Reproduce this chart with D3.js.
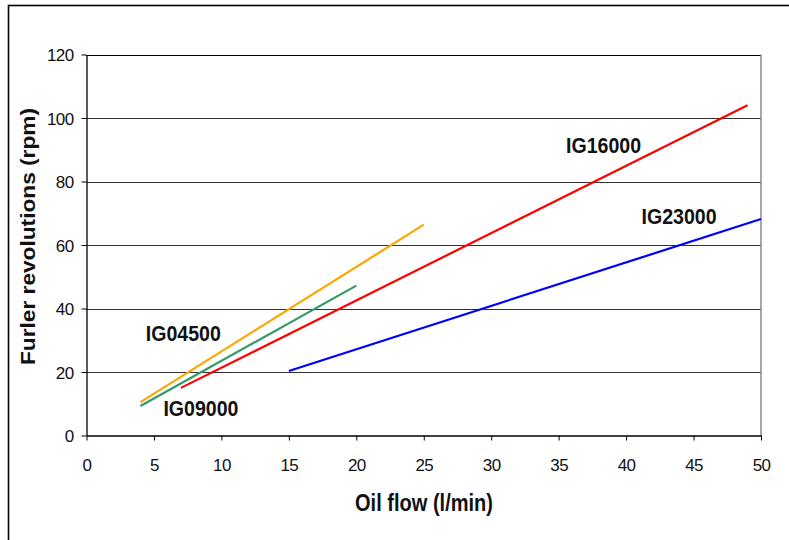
<!DOCTYPE html>
<html>
<head>
<meta charset="utf-8">
<script src="https://cdn.jsdelivr.net/npm/d3@7"></script>
<style>
  body { margin: 0; background: #fff; }
  svg { display: block; font-family: "Liberation Sans", Arial, sans-serif; }
</style>
</head>
<body>
<div id="chart"></div>
<script>
// furler models and their straight lines (oil flow l/min -> rpm)
const models = ["IG04500", "IG09000", "IG16000", "IG23000"];
const flowStart = [4, 4, 7, 15];
const flowEnd = [25, 20, 49, 50];
const rpmStart = [10.5, 9.3, 15, 20.3];
const rpmEnd = [66.4, 47.2, 104, 68.2];
const lineColors = ["#ffa500", "#339966", "#ff0000", "#0000ff"];

// label anchors, in data units
const labelFlow = [4.4, 5.7, 35.55, 41.15];
const labelRpm = [29.8, 6.0, 89.1, 66.6];

const xTicks = [0, 5, 10, 15, 20, 25, 30, 35, 40, 45, 50];
const yTicks = [0, 20, 40, 60, 80, 100, 120];

const width = 789, height = 540;

const svg = d3.select("#chart")
    .append("svg")
    .attr("width", width)
    .attr("height", height);

// outer frame (runs off the right and bottom)
svg.append("rect")
    .attr("x", 8.5)
    .attr("y", 5.5)
    .attr("width", 800)
    .attr("height", 600)
    .attr("fill", "none")
    .attr("stroke", "#000")
    .attr("stroke-width", 1.6);

const x = d3.scaleLinear().domain([0, 50]).range([86.5, 761]);
const y = d3.scaleLinear().domain([0, 120]).range([435.5, 54.5]);

// gridlines
svg.append("g")
    .selectAll("line")
    .data(yTicks.filter(d => d > 0))
    .join("line")
    .attr("x1", x(0))
    .attr("x2", x(50))
    .attr("y1", d => Math.round(y(d)) + 0.5)
    .attr("y2", d => Math.round(y(d)) + 0.5)
    .attr("stroke", d => d === 120 ? "#000" : "#333")
    .attr("stroke-width", 1);

// right edge of plot area
svg.append("line")
    .attr("x1", x(50))
    .attr("x2", x(50))
    .attr("y1", y(120))
    .attr("y2", y(0))
    .attr("stroke", "#888")
    .attr("stroke-width", 1.5);

const yAxis = svg.append("g")
    .attr("transform", `translate(${x(0)},0)`)
    .call(d3.axisLeft(y).tickValues(yTicks).tickSize(5).tickPadding(8).tickSizeOuter(0));

const xAxis = svg.append("g")
    .attr("transform", `translate(0,${y(0)})`)
    .call(d3.axisBottom(x).tickValues(xTicks).tickSize(5).tickPadding(18).tickSizeOuter(0));

[yAxis, xAxis].forEach(g => {
    g.select(".domain").attr("stroke", "#000").attr("stroke-width", 1.3);
    g.selectAll(".tick line").attr("stroke", "#000");
    g.selectAll(".tick text")
        .attr("fill", "#111")
        .style("font-size", "17px")
        .style("letter-spacing", "-0.6px")
        .style("font-family", "'Liberation Sans', Arial, sans-serif");
});
yAxis.selectAll(".tick text").attr("dy", "0.36em");

// series lines
const idx = d3.range(models.length);
svg.append("g")
    .selectAll("line")
    .data(idx)
    .join("line")
    .attr("x1", i => x(flowStart[i]))
    .attr("y1", i => y(rpmStart[i]))
    .attr("x2", i => x(flowEnd[i]))
    .attr("y2", i => y(rpmEnd[i]))
    .attr("stroke", i => lineColors[i])
    .attr("stroke-width", 2.2);

// model labels
svg.append("g")
    .selectAll("text")
    .data(idx)
    .join("text")
    .attr("x", i => x(labelFlow[i]))
    .attr("y", i => y(labelRpm[i]))
    .attr("font-size", 22)
    .attr("font-weight", "bold")
    .attr("fill", "#111")
    .attr("textLength", 75)
    .attr("lengthAdjust", "spacingAndGlyphs")
    .text(i => models[i]);

// axis titles
svg.append("text")
    .attr("x", 355)
    .attr("y", 510.5)
    .attr("font-size", 23)
    .attr("font-weight", "bold")
    .attr("fill", "#111")
    .attr("textLength", 138)
    .attr("lengthAdjust", "spacingAndGlyphs")
    .text("Oil flow (l/min)");

svg.append("text")
    .attr("transform", "translate(35,365) rotate(-90)")
    .attr("font-size", 20)
    .attr("font-weight", "bold")
    .attr("fill", "#111")
    .attr("textLength", 257)
    .attr("lengthAdjust", "spacingAndGlyphs")
    .text("Furler revolutions (rpm)");
</script>
</body>
</html>
